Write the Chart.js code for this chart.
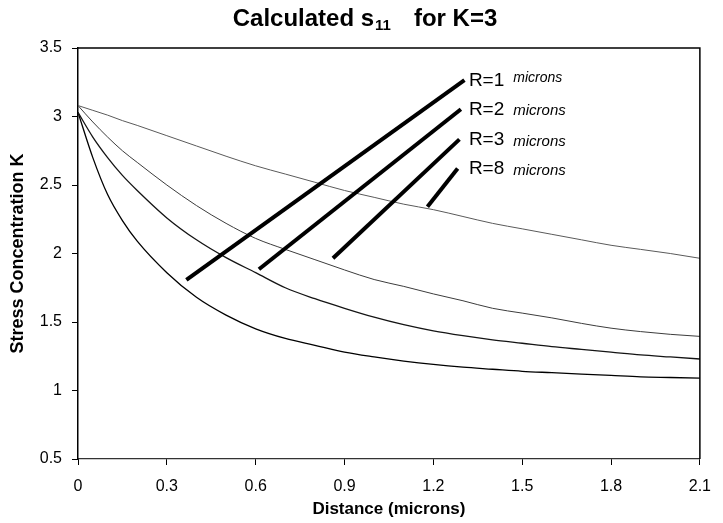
<!DOCTYPE html>
<html>
<head>
<meta charset="utf-8">
<title>Calculated s11 for K=3</title>
<script src="https://cdn.jsdelivr.net/npm/chart.js@4.4.1/dist/chart.umd.min.js"></script>
<style>
  html, body { margin: 0; padding: 0; background: #fff; }
  #wrap { width: 723px; height: 523px; position: relative; }
</style>
</head>
<body>
<div id="wrap"><canvas id="chart"></canvas></div>
<script>
// Distance from the notch root (microns)
const distance = [0, 0.05, 0.1, 0.15, 0.2, 0.3, 0.4, 0.5, 0.6, 0.7, 0.8, 0.9, 1.0, 1.1, 1.2, 1.3, 1.4, 1.5, 1.6, 1.7, 1.8, 1.9, 2.0, 2.1];

// Calculated stress concentration for each notch radius
const kR1 = [3.03, 2.70, 2.43, 2.24, 2.09, 1.86, 1.68, 1.55, 1.45, 1.38, 1.33, 1.28, 1.245, 1.215, 1.19, 1.17, 1.155, 1.14, 1.13, 1.12, 1.11, 1.10, 1.095, 1.09];
const kR2 = [3.03, 2.85, 2.70, 2.57, 2.46, 2.26, 2.10, 1.97, 1.86, 1.75, 1.67, 1.60, 1.535, 1.48, 1.435, 1.40, 1.37, 1.345, 1.32, 1.30, 1.28, 1.26, 1.245, 1.23];
const kR3 = [3.08, 2.96, 2.85, 2.75, 2.665, 2.50, 2.35, 2.22, 2.11, 2.03, 1.955, 1.88, 1.81, 1.76, 1.705, 1.655, 1.60, 1.565, 1.53, 1.49, 1.455, 1.43, 1.41, 1.395];
const kR8 = [3.08, 3.045, 3.01, 2.97, 2.935, 2.86, 2.785, 2.71, 2.64, 2.58, 2.52, 2.46, 2.41, 2.36, 2.32, 2.27, 2.22, 2.18, 2.14, 2.10, 2.06, 2.03, 2.00, 1.965];

// Callout labels and their leader lines (data units)
const labelRadius = ['R=1', 'R=2', 'R=3', 'R=8'];
const labelUnit = 'microns';
const leaderStartX = [0.366, 0.611, 0.861, 1.18];
const leaderStartY = [1.807, 1.885, 1.965, 2.342];
const leaderEndX = [1.305, 1.293, 1.288, 1.282];
const leaderEndY = [3.266, 3.053, 2.833, 2.62];
const labelX = [1.32, 1.32, 1.32, 1.32];

// Axis ticks
const xTicks = [0, 0.3, 0.6, 0.9, 1.2, 1.5, 1.8, 2.1];
const xTickLabels = ['0', '0.3', '0.6', '0.9', '1.2', '1.5', '1.8', '2.1'];
const yTicks = [0.5, 1, 1.5, 2, 2.5, 3, 3.5];
const yTickLabels = ['0.5', '1', '1.5', '2', '2.5', '3', '3.5'];

const FONT = '"Liberation Sans", Arial, Helvetica, sans-serif';

function series(values) {
  return distance.map((x, i) => ({ x: x, y: values[i] }));
}

const curveStyles = [
  { data: kR8, color: '#5a5a5a', width: 1 },
  { data: kR3, color: '#3c3c3c', width: 1 },
  { data: kR2, color: '#141414', width: 1.3 },
  { data: kR1, color: '#000000', width: 1.3 }
];

const datasets = curveStyles.map(c => ({
  data: series(c.data),
  borderColor: c.color,
  borderWidth: c.width,
  pointRadius: 0,
  fill: false,
  cubicInterpolationMode: 'monotone',
  order: 2
}));

leaderStartX.forEach((x0, i) => {
  datasets.push({
    data: [{ x: x0, y: leaderStartY[i] }, { x: leaderEndX[i], y: leaderEndY[i] }],
    borderColor: '#000',
    borderWidth: 4,
    pointRadius: 0,
    fill: false,
    tension: 0,
    order: 1
  });
});

const decor = {
  id: 'decor',
  afterDatasetsDraw(chart) {
    const ctx = chart.ctx;
    const a = chart.chartArea;
    const xs = chart.scales.x, ys = chart.scales.y;
    ctx.save();
    // plot frame: top and right edges
    ctx.strokeStyle = '#000';
    ctx.lineWidth = 1.5;
    ctx.beginPath();
    ctx.moveTo(a.left, a.top);
    ctx.lineTo(a.right, a.top);
    ctx.lineTo(a.right, a.bottom);
    ctx.stroke();

    // callout labels
    ctx.fillStyle = '#000';
    ctx.textBaseline = 'middle';
    ctx.textAlign = 'left';
    labelRadius.forEach((txt, i) => {
      const px = xs.getPixelForValue(labelX[i]);
      const py = ys.getPixelForValue(leaderEndY[i]);
      ctx.font = '19px ' + FONT;
      ctx.fillText(txt, px, py + 0.5);
      const w = ctx.measureText(txt).width;
      if (i === 0) {
        ctx.font = 'italic 14px ' + FONT;
        ctx.fillText(labelUnit, px + w + 9, py - 2);
      } else {
        ctx.font = 'italic 15px ' + FONT;
        ctx.fillText(labelUnit, px + w + 9, py + 2);
      }
    });
    ctx.restore();
  },
  afterDraw(chart) {
    const ctx = chart.ctx;
    ctx.save();
    ctx.fillStyle = '#000';
    ctx.textBaseline = 'alphabetic';
    ctx.textAlign = 'left';
    const main = 'Calculated s';
    const sub = '11';
    const tail = 'for K=3';
    const big = 'bold 24px ' + FONT, small = 'bold 15px ' + FONT;
    ctx.font = big;
    const w1 = ctx.measureText(main).width;
    const w3 = ctx.measureText(tail).width;
    ctx.font = small;
    const w2 = ctx.measureText(sub).width;
    const gap = 24;
    const total = w1 + w2 + gap + w3;
    let x = 365 - total / 2;
    const base = 26;
    ctx.font = big;
    ctx.fillText(main, x, base);
    x += w1;
    ctx.font = small;
    ctx.fillText(sub, x + 1, base + 4);
    x += w2 + gap;
    ctx.font = big;
    ctx.fillText(tail, x, base);
    ctx.restore();
  }
};

new Chart(document.getElementById('chart'), {
  type: 'line',
  data: { datasets: datasets },
  options: {
    responsive: true,
    maintainAspectRatio: false,
    animation: false,
    devicePixelRatio: 1,
    layout: { padding: { top: 48, right: 14, left: 0, bottom: 0 } },
    plugins: { legend: { display: false }, title: { display: false }, tooltip: { enabled: false } },
    scales: {
      x: {
        type: 'linear',
        min: 0,
        max: 2.1,
        afterBuildTicks: s => { s.ticks = xTicks.map(v => ({ value: v })); },
        afterFit: s => { s.height = 64; },
        ticks: {
          callback: (v, i) => xTickLabels[i],
          font: { family: FONT, size: 16 },
          color: '#000',
          padding: 12,
          maxRotation: 0,
          autoSkip: false
        },
        grid: { drawOnChartArea: false, drawTicks: true, tickLength: 6, color: '#000', lineWidth: 1 },
        border: { color: '#333', width: 1.2 },
        title: {
          display: true,
          text: 'Distance (microns)',
          font: { family: FONT, size: 17, weight: 'bold' },
          color: '#000',
          padding: { top: 0, bottom: 3 }
        }
      },
      y: {
        type: 'linear',
        min: 0.5,
        max: 3.5,
        afterBuildTicks: s => { s.ticks = yTicks.map(v => ({ value: v })); },
        afterFit: s => { s.width = 78; },
        ticks: {
          callback: (v, i) => yTickLabels[i],
          font: { family: FONT, size: 16 },
          color: '#000',
          padding: 10,
          autoSkip: false
        },
        grid: { drawOnChartArea: false, drawTicks: true, tickLength: 6, color: '#000', lineWidth: 1 },
        border: { color: '#000', width: 1.5 },
        title: {
          display: true,
          text: 'Stress Concentration K',
          font: { family: FONT, size: 18, weight: 'bold' },
          color: '#000',
          padding: { top: 7, bottom: 0 }
        }
      }
    }
  },
  plugins: [decor]
});
</script>
</body>
</html>
